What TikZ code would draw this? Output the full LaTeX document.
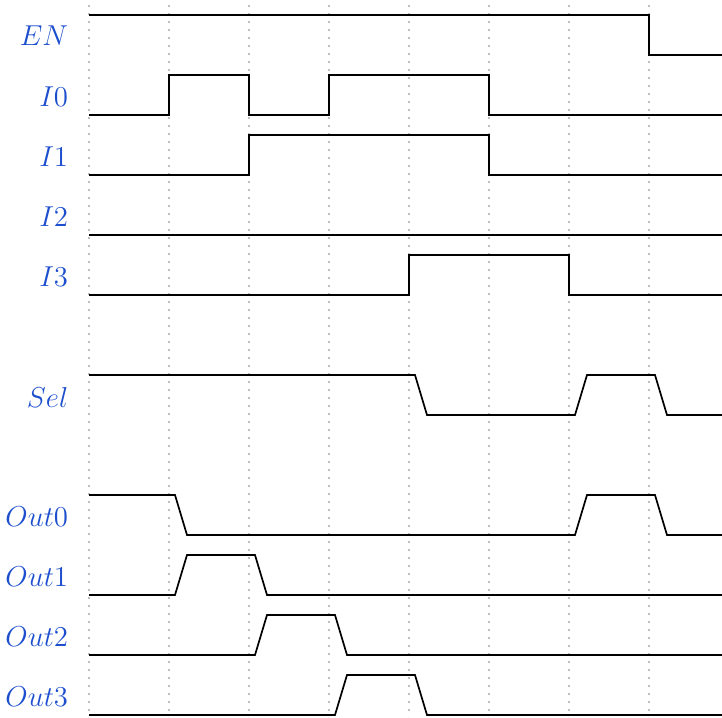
\documentclass[tikz,border=0pt]{standalone}
\begin{document}
\begin{tikzpicture}[x=0.5pt,y=-0.5pt,
  sig/.style={line width=0.85pt,line join=miter},
  grid/.style={draw={rgb,255:red,190;green,190;blue,190},line width=0.8pt,dash pattern=on 0.8pt off 3.2pt},
  lbl/.style={anchor=east,inner sep=0pt,text={rgb,255:red,28;green,78;blue,205},font=\fontsize{13.4}{16}\selectfont}]
\useasboundingbox (0,0) rectangle (722,717);
\foreach \x in {89,169,249,329,409,489,569,649}
  \draw[grid] (\x,5) -- (\x,717);
% labels
\node[lbl] (lEN) at (68.5,36) {$EN$};
\node[lbl] (lI0) at (68.5,97) {$I0$};
\node[lbl] (lI1) at (68.5,157) {$I1$};
\node[lbl] (lI2) at (68.5,217) {$I2$};
\node[lbl] (lI3) at (68.5,277) {$I3$};
\node[lbl] (lSel) at (68.5,397) {$Sel$};
\node[lbl] (lO0) at (68.5,517) {$Out0$};
\node[lbl] (lO1) at (68.5,577) {$Out1$};
\node[lbl] (lO2) at (68.5,637) {$Out2$};
\node[lbl] (lO3) at (68.5,697) {$Out3$};
% signals
\draw[sig] (89,15) -- (649,15) -- (649,55) -- (722,55);
\draw[sig] (89,115) -- (169,115) -- (169,75) -- (249,75) -- (249,115) -- (329,115) -- (329,75) -- (489,75) -- (489,115) -- (722,115);
\draw[sig] (89,175) -- (249,175) -- (249,135) -- (489,135) -- (489,175) -- (722,175);
\draw[sig] (89,235) -- (722,235);
\draw[sig] (89,295) -- (409,295) -- (409,255) -- (569,255) -- (569,295) -- (722,295);
\draw[sig] (89,375) -- (415,375) -- (427,415) -- (575,415) -- (587,375) -- (655,375) -- (667,415) -- (722,415);
\draw[sig] (89,495) -- (175,495) -- (187,535) -- (575,535) -- (587,495) -- (655,495) -- (667,535) -- (722,535);
\draw[sig] (89,595) -- (175,595) -- (187,555) -- (255,555) -- (267,595) -- (722,595);
\draw[sig] (89,655) -- (255,655) -- (267,615) -- (335,615) -- (347,655) -- (722,655);
\draw[sig] (89,715) -- (335,715) -- (347,675) -- (415,675) -- (427,715) -- (722,715);
\end{tikzpicture}
\end{document}
